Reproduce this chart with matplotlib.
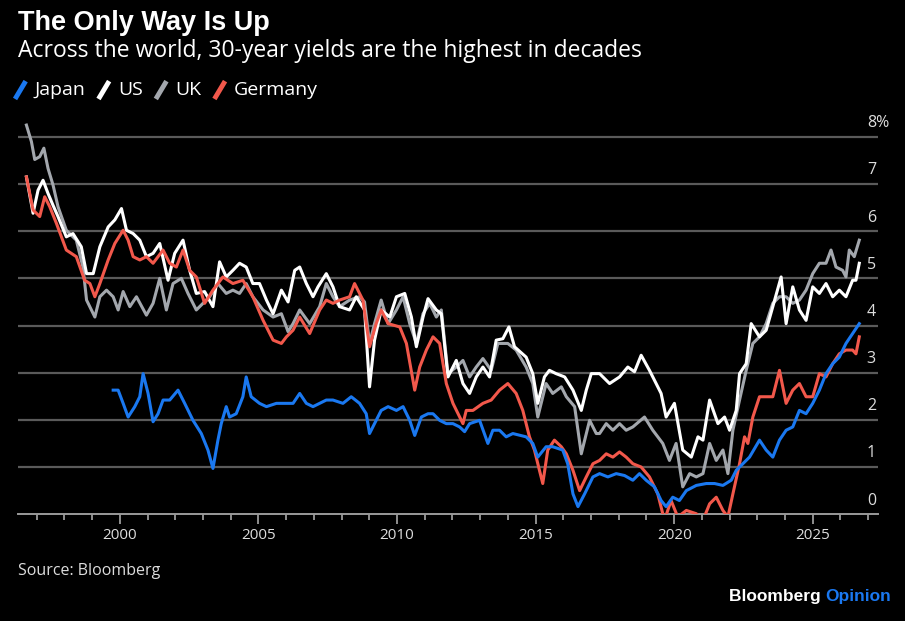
import matplotlib
matplotlib.use("Agg")
import matplotlib.pyplot as plt
from matplotlib.lines import Line2D

# --- data (30-year government bond yields, %) ---
uk_years = [1996.63, 1996.81, 1996.93, 1997.11, 1997.26, 1997.41, 1997.59, 1997.77, 1998.07, 1998.43, 1998.67, 1998.8,
            1999.1, 1999.28, 1999.52, 1999.76, 1999.94, 2000.12, 2000.36, 2000.6, 2000.96, 2001.2, 2001.44, 2001.68,
            2001.92, 2002.22, 2002.46, 2002.76, 2003.0, 2003.24, 2003.54, 2003.84, 2004.08, 2004.32, 2004.56, 2004.8,
            2005.17, 2005.53, 2005.83, 2006.07, 2006.25, 2006.49,
            2006.85, 2007.21, 2007.45, 2007.69, 2007.93, 2008.29, 2008.65, 2008.83, 2009.01, 2009.19, 2009.43, 2009.68,
            2009.98, 2010.22, 2010.46, 2010.7, 2010.94, 2011.18, 2011.42, 2011.6, 2011.84, 2012.14, 2012.38, 2012.62,
            2012.86, 2013.1, 2013.4, 2013.64, 2014.0, 2014.3, 2014.66, 2014.9, 2015.08, 2015.38, 2015.62, 2015.93,
            2016.11, 2016.41, 2016.65, 2016.95, 2017.19,
            2017.31, 2017.55, 2017.79, 2018.03, 2018.27, 2018.51, 2018.93, 2019.23, 2019.59, 2019.83, 2020.07, 2020.31,
            2020.56, 2020.8, 2021.04, 2021.28, 2021.52, 2021.76, 2021.94, 2022.12, 2022.36, 2022.6, 2022.84, 2023.08,
            2023.32, 2023.56, 2023.8, 2024.04, 2024.28, 2024.52, 2024.76, 2025.0, 2025.24, 2025.48, 2025.66, 2025.84,
            2026.08, 2026.2, 2026.32, 2026.5, 2026.68]
uk_vals = [8.25, 7.9, 7.52, 7.58, 7.76, 7.33, 6.98, 6.52, 6.02, 5.81, 5.24, 4.54,
           4.18, 4.61, 4.75, 4.61, 4.33, 4.72, 4.4, 4.61, 4.22, 4.47, 5.0, 4.33,
           4.89, 5.0, 4.68, 4.33, 4.47, 4.61, 4.89, 4.68, 4.75, 4.68, 4.89, 4.61,
           4.33, 4.18, 4.25, 3.87, 4.04, 4.33,
           4.04, 4.4, 4.89, 4.61, 4.4, 4.54, 4.61, 4.5, 3.62, 4.04, 4.54, 4.04,
           4.33, 4.61, 4.04, 3.62, 4.25, 4.47, 4.18, 4.33, 2.98, 3.12, 3.26, 2.91,
           3.12, 3.3, 3.05, 3.62, 3.62, 3.48, 3.12, 2.77, 2.06, 2.77, 2.56, 2.7,
           2.49, 2.28, 1.28, 1.99, 1.71,
           1.71, 1.92, 1.78, 1.92, 1.78, 1.85, 2.06, 1.78, 1.5, 1.14, 1.5, 0.58,
           0.86, 0.79, 0.86, 1.5, 1.14, 1.36, 0.86, 1.78, 2.42, 3.05, 3.62, 3.76,
           4.04, 4.47, 4.61, 4.61, 4.47, 4.54, 4.75, 5.1, 5.32, 5.32, 5.6, 5.24,
           5.17, 5.03, 5.6, 5.46, 5.81]

us_years = [1996.63, 1996.87, 1997.05, 1997.23, 1997.41, 1997.59, 1997.77, 1998.07, 1998.31, 1998.61, 1998.8, 1999.04,
            1999.28, 1999.58, 1999.82, 2000.06, 2000.24, 2000.48, 2000.72, 2000.96, 2001.2, 2001.44, 2001.74, 2001.98,
            2002.28, 2002.52, 2002.76, 2003.06, 2003.36, 2003.6, 2003.84, 2004.08, 2004.32, 2004.56, 2004.8, 2005.04,
            2005.29, 2005.53, 2005.83, 2006.07, 2006.31, 2006.49,
            2006.73, 2006.97, 2007.15, 2007.45, 2007.69, 2007.93, 2008.29, 2008.53, 2008.83, 2009.01, 2009.19, 2009.43,
            2009.74, 2009.98, 2010.28, 2010.52, 2010.7, 2010.94, 2011.12, 2011.42, 2011.6, 2011.84, 2012.14, 2012.38,
            2012.62, 2012.86, 2013.1, 2013.34, 2013.58, 2013.82, 2014.04, 2014.24, 2014.66, 2014.9, 2015.08, 2015.32,
            2015.5, 2015.74, 2016.05, 2016.35, 2016.65, 2016.83, 2017.01, 2017.31,
            2017.67, 2018.03, 2018.33, 2018.57, 2018.81, 2019.11, 2019.53, 2019.71, 2020.01, 2020.31, 2020.62, 2020.86,
            2021.04, 2021.28, 2021.58, 2021.82, 2022.0, 2022.24, 2022.36, 2022.6, 2022.78, 2023.08, 2023.32, 2023.56,
            2023.86, 2024.04, 2024.28, 2024.52, 2024.76, 2025.0, 2025.24, 2025.48, 2025.72, 2025.96, 2026.2, 2026.44,
            2026.56, 2026.68]
us_vals = [7.15, 6.38, 6.87, 7.08, 6.8, 6.55, 6.31, 5.88, 5.95, 5.67, 5.1, 5.1,
           5.67, 6.09, 6.24, 6.48, 6.02, 5.95, 5.81, 5.46, 5.53, 5.74, 4.96, 5.53,
           5.81, 5.17, 4.68, 4.72, 4.4, 5.35, 5.03, 5.17, 5.32, 5.24, 4.89, 4.89,
           4.54, 4.25, 4.75, 4.5, 5.17, 5.24,
           4.89, 4.61, 4.82, 5.1, 4.82, 4.4, 4.33, 4.61, 4.33, 2.7, 3.69, 4.33,
           4.18, 4.61, 4.68, 4.18, 3.55, 4.18, 4.57, 4.33, 4.25, 2.91, 3.26, 2.77,
           2.56, 2.91, 3.12, 2.91, 3.69, 3.72, 3.97, 3.55, 3.33, 2.98, 2.35, 2.91,
           3.05, 2.98, 2.91, 2.63, 2.2, 2.63, 2.98, 2.98,
           2.77, 2.91, 3.12, 3.02, 3.37, 3.05, 2.56, 2.06, 2.35, 1.36, 1.21, 1.64,
           1.57, 2.42, 1.92, 2.06, 1.78, 2.2, 2.98, 3.19, 4.04, 3.76, 3.9, 4.4,
           5.03, 4.04, 4.82, 4.33, 4.11, 4.82, 4.68, 4.89, 4.61, 4.75, 4.61, 4.96,
           4.96, 5.32]

de_years = [1996.63, 1996.87, 1997.11, 1997.29, 1997.47, 1997.71, 1998.07, 1998.43, 1998.73, 1998.92, 1999.1, 1999.28,
            1999.58, 1999.82, 2000.12, 2000.3, 2000.48, 2000.72, 2000.96, 2001.2, 2001.56, 2001.8, 2002.04, 2002.28,
            2002.52, 2002.76, 2003.06, 2003.36, 2003.72, 2004.08, 2004.44, 2004.8, 2005.17, 2005.53, 2005.83, 2006.01,
            2006.25, 2006.49,
            2006.85, 2007.21, 2007.45, 2007.69, 2007.93, 2008.29, 2008.47, 2008.77, 2009.01, 2009.25, 2009.43, 2009.68,
            2010.1, 2010.34, 2010.64, 2010.82, 2011.06, 2011.3, 2011.54, 2011.78, 2012.02, 2012.38, 2012.5, 2012.74,
            2013.1, 2013.4, 2013.7, 2014.0, 2014.3, 2014.54, 2014.78, 2014.96, 2015.14, 2015.26, 2015.44, 2015.68,
            2015.93, 2016.11, 2016.35, 2016.59, 2016.83, 2017.07, 2017.31,
            2017.55, 2017.79, 2018.03, 2018.27, 2018.51, 2018.81, 2019.11, 2019.41, 2019.65, 2019.89, 2020.13, 2020.44,
            2020.8, 2021.04, 2021.28, 2021.52, 2021.76, 2021.94, 2022.12, 2022.36, 2022.54, 2022.66, 2022.84, 2023.08,
            2023.32, 2023.56, 2023.8, 2024.04, 2024.28, 2024.52, 2024.76, 2025.0, 2025.24, 2025.48, 2025.72, 2025.96,
            2026.2, 2026.44, 2026.56, 2026.68]
de_vals = [7.15, 6.45, 6.31, 6.73, 6.52, 6.17, 5.6, 5.46, 4.96, 4.89, 4.61, 4.89,
           5.39, 5.74, 6.02, 5.81, 5.46, 5.39, 5.46, 5.32, 5.6, 5.32, 5.24, 5.6,
           5.17, 5.03, 4.47, 4.75, 5.03, 4.89, 4.96, 4.61, 4.11, 3.69, 3.62, 3.76,
           3.9, 4.18,
           3.83, 4.33, 4.54, 4.47, 4.54, 4.61, 4.89, 4.54, 3.55, 4.04, 4.33, 4.04,
           3.97, 3.62, 2.63, 3.12, 3.48, 3.76, 3.62, 2.77, 2.35, 1.92, 2.2, 2.2,
           2.35, 2.42, 2.63, 2.77, 2.56, 2.2, 1.64, 1.36, 0.93, 0.65, 1.36, 1.57,
           1.43, 1.28, 0.93, 0.5, 0.79, 1.07, 1.14,
           1.28, 1.21, 1.32, 1.21, 1.07, 1.0, 0.79, 0.43, -0.13, 0.29, -0.06, 0.08,
           0.01, -0.13, 0.22, 0.36, 0.08, -0.06, 0.43, 1.07, 1.64, 1.5, 2.06, 2.49,
           2.49, 2.49, 3.05, 2.35, 2.63, 2.77, 2.49, 2.49, 2.98, 2.91, 3.19, 3.4,
           3.48, 3.48, 3.4, 3.76]

jp_years = [1999.76, 1999.94, 2000.12, 2000.3, 2000.54, 2000.72, 2000.84, 2001.02, 2001.2, 2001.38, 2001.56, 2001.8,
            2002.1, 2002.34, 2002.64, 2002.94, 2003.18, 2003.36, 2003.54, 2003.66, 2003.84, 2003.96, 2004.2, 2004.44,
            2004.56, 2004.74, 2005.04, 2005.29, 2005.65, 2006.01, 2006.25, 2006.49,
            2006.73, 2006.97, 2007.21, 2007.45, 2007.69, 2008.05, 2008.35, 2008.65, 2008.89, 2009.01, 2009.19, 2009.43,
            2009.68, 2009.98, 2010.22, 2010.46, 2010.64, 2010.88, 2011.12, 2011.3, 2011.54, 2011.78, 2012.02, 2012.26,
            2012.44, 2012.62, 2012.98, 2013.28, 2013.46, 2013.7, 2013.94, 2014.18, 2014.66, 2014.9, 2015.08, 2015.38,
            2015.62, 2015.98, 2016.16, 2016.35, 2016.53, 2016.77, 2017.07, 2017.31,
            2017.61, 2017.91, 2018.21, 2018.51, 2018.75, 2018.99, 2019.29, 2019.53, 2019.71, 2019.95, 2020.19, 2020.44,
            2020.8, 2021.16, 2021.46, 2021.76, 2022.06, 2022.24, 2022.48, 2022.72, 2023.08, 2023.32, 2023.56, 2023.8,
            2024.04, 2024.28, 2024.52, 2024.76, 2025.0, 2025.24, 2025.48, 2025.72, 2025.96, 2026.2, 2026.44, 2026.68]
jp_vals = [2.63, 2.63, 2.35, 2.06, 2.28, 2.49, 2.98, 2.56, 1.96, 2.13, 2.42, 2.42,
           2.63, 2.35, 1.99, 1.71, 1.36, 0.97, 1.57, 1.92, 2.28, 2.06, 2.13, 2.49,
           2.91, 2.49, 2.35, 2.28, 2.35, 2.35, 2.35, 2.56,
           2.35, 2.28, 2.35, 2.42, 2.42, 2.35, 2.49, 2.35, 2.13, 1.71, 1.92, 2.2,
           2.28, 2.2, 2.28, 1.99, 1.67, 2.06, 2.13, 2.13, 1.99, 1.92, 1.92, 1.85,
           1.75, 1.92, 1.99, 1.5, 1.78, 1.78, 1.64, 1.71, 1.64, 1.5, 1.21, 1.43,
           1.43, 1.36, 1.07, 0.43, 0.16, 0.43, 0.79, 0.86,
           0.79, 0.86, 0.82, 0.72, 0.86, 0.72, 0.58, 0.29, 0.16, 0.36, 0.29, 0.5,
           0.61, 0.65, 0.65, 0.61, 0.72, 0.93, 1.07, 1.21, 1.57, 1.36, 1.21, 1.57,
           1.78, 1.85, 2.2, 2.13, 2.35, 2.63, 2.98, 3.19, 3.33, 3.62, 3.83, 4.04]

y_ticks = [0, 1, 2, 3, 4, 5, 6, 7, 8]
y_labels = ["0", "1", "2", "3", "4", "5", "6", "7", "8%"]
x_major = [2000, 2005, 2010, 2015, 2020, 2025]
x_minor = list(range(1997, 2028))

names = ["Japan", "US", "UK", "Germany"]
colors = ["#1a78f0", "#ffffff", "#a3a7ad", "#f2584b"]

plt.rcParams['font.family'] = ['Open Sans', 'DejaVu Sans']

fig = plt.figure(figsize=(9.05, 6.21), dpi=100, facecolor="black")
ax = fig.add_axes([0.02, 0.172, 0.95, 0.638], facecolor="black")

for v in y_ticks[1:]:
    ax.axhline(v, color="#5a5a5a", lw=1.6, zorder=1)

series = [(jp_years, jp_vals), (us_years, us_vals), (uk_years, uk_vals), (de_years, de_vals)]
order = [2, 1, 3, 0]  # UK, US, Germany, Japan on top
for i in order:
    xs, ys = series[i]
    ax.plot(xs, ys, color=colors[i], lw=2.2, zorder=3 + order.index(i))

ax.set_xlim(1996.33, 2027.35)
ax.set_ylim(0, 8.4)
for sp in ["top", "right", "left"]:
    ax.spines[sp].set_visible(False)
ax.spines["bottom"].set_color("#9a9a9a")
ax.spines["bottom"].set_linewidth(1.4)
ax.set_yticks([])
ax.set_xticks(x_major)
ax.set_xticklabels([str(y) for y in x_major], color="#dddddd", fontsize=11)
ax.set_xticks(x_minor, minor=True)
ax.tick_params(axis="x", which="major", length=7, width=1.3, color="#9a9a9a", pad=3)
ax.tick_params(axis="x", which="minor", length=4, width=1.3, color="#9a9a9a")

for v, lab in zip(y_ticks, y_labels):
    ax.text(2026.95, v + 0.12, lab, color="#dddddd", fontsize=11.5, ha="left", va="bottom")

fig.text(0.02, 0.963, "The Only Way Is Up", color="white", fontsize=19.5, fontweight="bold",
         family=["Liberation Sans", "DejaVu Sans"], va="center")
fig.text(0.02, 0.918, "Across the world, 30-year yields are the highest in decades", color="white",
         fontsize=16.5, va="center")

# legend
lx = 0.018
for name, c in zip(names, colors):
    fig.add_artist(Line2D([lx, lx + 0.009], [0.844, 0.866], color=c, lw=3.5, transform=fig.transFigure))
    t = fig.text(lx + 0.02, 0.855, name, color="white", fontsize=14, va="center")
    fig.canvas.draw()
    bb = t.get_window_extent()
    lx = bb.x1 / fig.bbox.width + 0.016

fig.text(0.02, 0.08, "Source: Bloomberg", color="#dddddd", fontsize=11.5, va="center")
fig.text(0.912, 0.04, "Bloomberg ", color="white", fontsize=12.5, fontweight="bold",
         family=["Liberation Sans", "DejaVu Sans"], va="center", ha="right")
fig.text(0.912, 0.04, "Opinion", color="#1a78f0", fontsize=12.5, fontweight="bold",
         family=["Liberation Sans", "DejaVu Sans"], va="center", ha="left")

fig.savefig("out.png", dpi=100, facecolor="black")
